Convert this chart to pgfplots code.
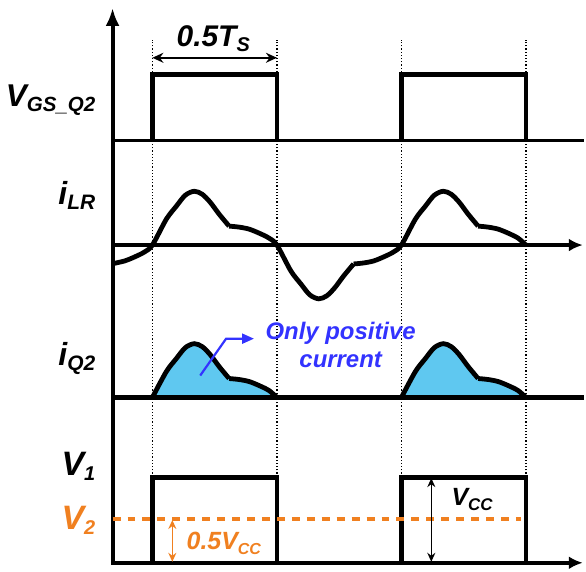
\documentclass[border=0pt]{standalone}
\usepackage{pgfplots}
\pgfplotsset{compat=1.18}
\usetikzlibrary{arrows.meta}
\usepackage{fontspec}
\setmainfont{Liberation Sans}
\definecolor{orng}{RGB}{240,128,32}
\definecolor{bltxt}{RGB}{51,51,255}
\definecolor{blfill}{RGB}{95,200,240}
\newcommand{\lbl}[4]{{\fontsize{#1}{#1}\selectfont\bfseries\itshape #2\raisebox{-2.5pt}{\fontsize{#3}{#3}\selectfont #4}}}
\begin{document}
\begin{tikzpicture}
\begin{axis}[scale only axis, width=293pt, height=287pt,
  xmin=0, xmax=586, ymin=0, ymax=574, hide axis, clip=false]
\path (axis cs:0,0) rectangle (axis cs:586,574);
% fills of i_Q2
\addplot[draw=none, fill=blfill, smooth] coordinates {(153,175)(167,201)(177,214)(186,225)(195,229)(203,226)(211,218)(220,206)(230,194)(240,193)(250,191)(260,187)(270,182)(278,175)} -- cycle;
\addplot[draw=none, fill=blfill, smooth] coordinates {(403,175)(417,201)(427,214)(436,225)(445,229)(453,226)(461,218)(470,206)(480,194)(490,193)(500,191)(510,187)(520,182)(528,175)} -- cycle;
% dotted guides
\addplot[densely dotted, line width=0.6pt] coordinates {(153,9)(153,534)};
\addplot[densely dotted, line width=0.6pt] coordinates {(278,9)(278,534)};
\addplot[densely dotted, line width=0.6pt] coordinates {(403,9)(403,534)};
\addplot[densely dotted, line width=0.6pt] coordinates {(528,9)(528,534)};
% axes
\addplot[line width=2pt, -{Latex[length=9pt,width=7pt]}] coordinates {(113,7)(113,566)};
\addplot[line width=1.9pt] coordinates {(113,433)(586,433)};
\addplot[line width=1.9pt, -{Latex[length=7pt,width=6.5pt]}] coordinates {(113,328)(585,328)};
\addplot[line width=2.3pt] coordinates {(113,175)(586,175)};
\addplot[line width=2pt, -{Latex[length=7pt,width=6.5pt]}] coordinates {(113,9)(585,9)};
% V_GS pulses
\addplot[line width=2.4pt] coordinates {(153,433)(153,499)(278,499)(278,433)};
\addplot[line width=2.4pt] coordinates {(403,433)(403,499)(528,499)(528,433)};
% i_LR
\addplot[line width=2.4pt, smooth] coordinates {(114,309.5)(125,312)(135,316)(145,321)(153,328)(167,354)(177,367)(186,378)(195,382)(203,379)(211,371)(220,359)(230,347)};
\addplot[line width=2.4pt, smooth] coordinates {(230,347)(240,346)(250,344)(260,340)(270,335)(278,328)(292,302)(302,289)(311,278)(320,274)(328,277)(336,285)(345,297)(355,309)};
\addplot[line width=2.4pt, smooth] coordinates {(355,309)(365,310)(375,312)(385,316)(395,321)(403,328)(417,354)(427,367)(436,378)(445,382)(453,379)(461,371)(470,359)(480,347)};
\addplot[line width=2.4pt, smooth] coordinates {(480,347)(490,346)(500,344)(510,340)(520,335)(528,328)};
% i_Q2 outlines
\addplot[line width=2.4pt, smooth] coordinates {(153,175)(167,201)(177,214)(186,225)(195,229)(203,226)(211,218)(220,206)(230,194)};
\addplot[line width=2.4pt, smooth] coordinates {(230,194)(240,193)(250,191)(260,187)(270,182)(278,175)};
\addplot[line width=2.4pt, smooth] coordinates {(403,175)(417,201)(427,214)(436,225)(445,229)(453,226)(461,218)(470,206)(480,194)};
\addplot[line width=2.4pt, smooth] coordinates {(480,194)(490,193)(500,191)(510,187)(520,182)(528,175)};
% V1 pulses
\addplot[line width=2.4pt] coordinates {(153,9)(153,95)(278,95)(278,9)};
\addplot[line width=2.4pt] coordinates {(403,9)(403,95)(528,95)(528,9)};
% V2 dashed
\addplot[orng, line width=2.2pt, dash pattern=on 4pt off 3.5pt] coordinates {(113,53)(523,53)};
% annotations
\draw[line width=1.1pt, {Stealth[length=5.5pt,width=5pt]}-{Stealth[length=5.5pt,width=5pt]}] (axis cs:153,516) -- (axis cs:278,516);
\draw[line width=0.8pt, {Stealth[length=4.5pt,width=4pt]}-{Stealth[length=4.5pt,width=4pt]}] (axis cs:433,94) -- (axis cs:433,10);
\draw[orng, line width=0.8pt, {Stealth[length=4.5pt,width=4pt]}-{Stealth[length=4.5pt,width=4pt]}] (axis cs:173,52) -- (axis cs:173,10);
\draw[bltxt, line width=1.1pt, -{Triangle[length=6pt,width=5pt]}] (axis cs:201,197) -- (axis cs:227,234) -- (axis cs:255,234);
\node[bltxt, align=center, font=\fontsize{12pt}{14pt}\selectfont\bfseries\itshape] at (axis cs:342,228) {Only positive\\current};
% labels
\node[anchor=base east, inner sep=0pt] at (axis cs:96,467) {\lbl{15.8pt}{V}{10.3pt}{GS\_Q2}};
\node[anchor=base east, inner sep=0pt] at (axis cs:96,369) {\lbl{16pt}{i}{10.5pt}{LR}};
\node[anchor=base east, inner sep=0pt] at (axis cs:96,207) {\lbl{16pt}{i}{10.5pt}{Q2}};
\node[anchor=base east, inner sep=0pt] at (axis cs:96,97) {\lbl{17pt}{V}{10pt}{1}};
\node[anchor=base east, inner sep=0pt, text=orng] at (axis cs:96,42) {\lbl{17pt}{V}{10pt}{2}};
\node[anchor=base west, inner sep=0pt] at (axis cs:177,527) {\lbl{15pt}{0.5T}{10pt}{S}};
\node[anchor=base west, inner sep=0pt] at (axis cs:453,67) {\lbl{12.5pt}{V}{8.5pt}{CC}};
\node[anchor=base west, inner sep=0pt, text=orng] at (axis cs:187,22) {\lbl{12.5pt}{0.5V}{8pt}{CC}};
\end{axis}
\end{tikzpicture}
\end{document}
